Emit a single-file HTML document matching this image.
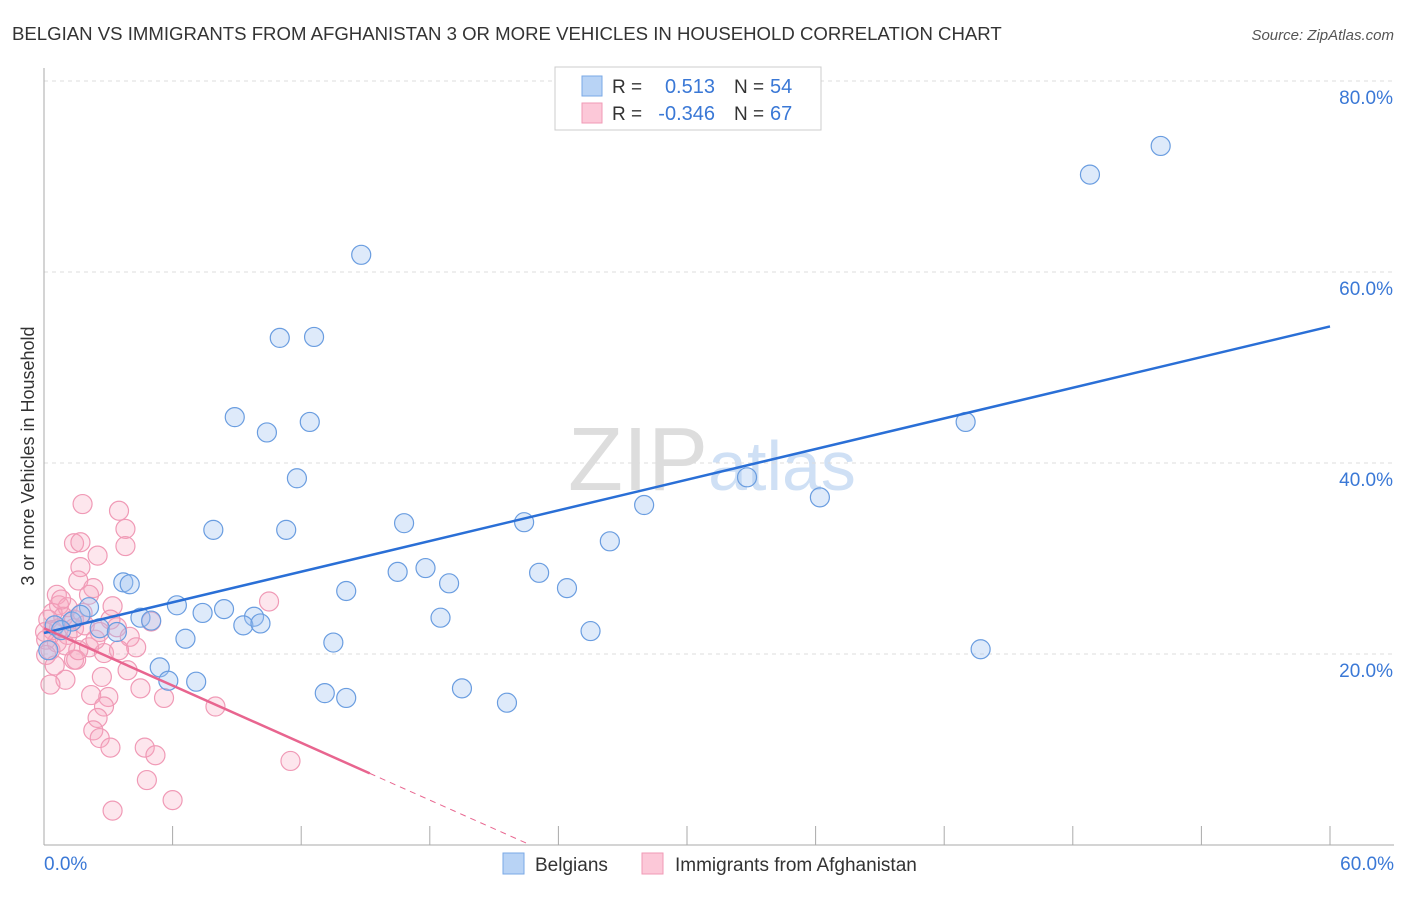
<!DOCTYPE html>
<html><head><meta charset="utf-8"><style>
body{margin:0;background:#fff;font-family:"Liberation Sans",sans-serif}
svg text{font-family:"Liberation Sans",sans-serif}
</style></head><body>
<svg id="c" width="1406" height="892" xmlns="http://www.w3.org/2000/svg">
<text x="12" y="40" font-size="18.6" fill="#333">BELGIAN VS IMMIGRANTS FROM AFGHANISTAN 3 OR MORE VEHICLES IN HOUSEHOLD CORRELATION CHART</text>
<text x="1394" y="40" font-size="15" fill="#555" font-style="italic" text-anchor="end">Source: ZipAtlas.com</text>
<text x="712" y="490" font-size="90" fill="#ddd" text-anchor="middle" font-family="Liberation Serif">ZIP<tspan fill="#cfe0f5" font-family="Liberation Sans" font-size="70">atlas</tspan></text>
<g id="grid"></g><g id="pts"></g><g id="lines"></g>
<text transform="translate(34,456) rotate(-90)" font-size="18" fill="#333" text-anchor="middle">3 or more Vehicles in Household</text>
<g>
<rect x="555" y="67" width="266" height="63" fill="#fff" stroke="#ccc"/>
<rect x="582" y="76" width="20" height="20" fill="#b8d3f5" stroke="#7aa8e6"/>
<rect x="582" y="103" width="20" height="20" fill="#fcc8d8" stroke="#f09ab6"/>
<text x="612" y="93" font-size="19" fill="#333">R = </text><text x="715" y="93" font-size="20" fill="#3a78d6" text-anchor="end">0.513</text>
<text x="734" y="93" font-size="19" fill="#333">N = </text><text x="770" y="93" font-size="20" fill="#3a78d6">54</text>
<text x="612" y="120" font-size="19" fill="#333">R = </text><text x="715" y="120" font-size="20" fill="#3a78d6" text-anchor="end">-0.346</text>
<text x="734" y="120" font-size="19" fill="#333">N = </text><text x="770" y="120" font-size="20" fill="#3a78d6">67</text>
</g>
<g>
<rect x="503" y="853" width="21" height="21" fill="#b8d3f5" stroke="#7aa8e6"/><text x="535" y="871" font-size="19" fill="#333">Belgians</text>
<rect x="642" y="853" width="21" height="21" fill="#fcc8d8" stroke="#f09ab6"/><text x="675" y="871" font-size="19" fill="#333">Immigrants from Afghanistan</text>
</g>
</svg>
<script>
const blueX=[52.1,48.8,14.8,11.0,12.6,8.9,10.4,12.4,43.0,11.8,32.8,36.2,28.0,16.8,22.4,7.9,11.3,26.4,16.5,17.8,18.9,23.1,24.4,3.7,4.0,14.1,6.2,7.4,8.4,2.1,4.5,5.0,9.8,9.3,10.1,18.5,25.5,2.6,3.4,6.6,13.5,43.7,5.4,5.8,7.1,13.1,14.1,19.5,21.6,0.5,0.2,1.3,0.8,1.7];
const blueY=[73.2,70.2,61.8,53.1,53.2,44.8,43.2,44.3,44.3,38.4,38.5,36.4,35.6,33.7,33.8,33.0,33.0,31.8,28.6,29.0,27.4,28.5,26.9,27.5,27.3,26.6,25.1,24.3,24.7,24.9,23.8,23.5,23.9,23.0,23.2,23.8,22.4,22.7,22.3,21.6,21.2,20.5,18.6,17.2,17.1,15.9,15.4,16.4,14.9,23.0,20.4,23.4,22.5,24.1];
const pinkX=[1.8,3.5,3.8,3.8,1.4,1.7,2.5,1.7,1.6,2.3,3.2,10.5,0.6,0.7,1.1,0.4,0.9,1.4,1.8,3.4,4.0,4.3,2.1,2.8,3.5,1.4,1.5,0.3,0.6,3.9,2.7,1.0,0.3,4.5,5.6,8.0,2.2,3.0,2.8,2.5,2.3,2.6,3.1,4.7,5.2,11.5,4.8,6.0,3.2,5.0,0.2,0.4,0.1,0.7,1.1,1.4,1.9,2.4,3.1,0.1,0.5,0.8,2.1,2.6,1.0,0.05,1.6];
const pinkY=[35.7,35.0,33.1,31.3,31.6,31.7,30.3,29.1,27.7,26.9,25.0,25.5,26.2,25.1,24.9,24.3,23.9,23.6,24.3,22.8,21.8,20.7,20.7,20.1,20.4,19.4,19.4,20.4,21.2,18.3,17.6,17.3,16.8,16.4,15.4,14.5,15.7,15.5,14.5,13.3,12.0,11.2,10.2,10.2,9.4,8.8,6.8,4.7,3.6,23.4,23.6,22.5,21.5,22.7,22.0,22.7,23.0,21.5,23.6,19.9,18.8,25.7,26.2,22.3,20.9,22.3,20.4];
const yTicks=[20,40,60,80];
const xTickVals=[0,6,12,18,24,30,36,42,48,54,60];
const blueTrend=[[0,22.2],[60,54.3]];
const pinkTrend=[[0,22.7],[15.2,7.5]];
const pinkDash=[[15.2,7.5],[22.7,0]];
const NS='http://www.w3.org/2000/svg';
const sx=v=>44+v/60*1286, sy=v=>845-v/20*191;
function mk(tag,at,parent){const e=document.createElementNS(NS,tag);for(const k in at)e.setAttribute(k,at[k]);parent.appendChild(e);return e;}
const grid=document.getElementById('grid');
yTicks.forEach(t=>{const l=mk('line',{x1:44,x2:1394,y1:sy(t),y2:sy(t),stroke:'#ddd','stroke-dasharray':'4,4'},grid);


const tx=mk('text',{x:1393,y:sy(t)+23,'font-size':19,fill:'#3a78d6','text-anchor':'end'},grid);tx.textContent=t.toFixed(1)+'%';

});
mk('line',{x1:44,x2:44,y1:68,y2:845,stroke:'#aaa'},grid);
mk('line',{x1:44,x2:1394,y1:845,y2:845,stroke:'#aaa'},grid);
xTickVals.forEach(t=>{const l=mk('line',{x1:sx(t),x2:sx(t),y1:826,y2:845,stroke:'#aaa'},grid);

});
[[0,'start',44],[60,'end',1394]].forEach(([v,a,x])=>{const tx=mk('text',{x:x,y:870,'font-size':19,fill:'#3a78d6','text-anchor':a},grid);tx.textContent=v.toFixed(1)+'%';

});
const pts=document.getElementById('pts');
pinkX.forEach((x,i)=>{const c=mk('circle',{cx:sx(x),cy:sy(pinkY[i]),r:9.5,fill:'rgba(248,165,192,0.28)',stroke:'#f09ab6','stroke-width':1.2},pts);

});
blueX.forEach((x,i)=>{const c=mk('circle',{cx:sx(x),cy:sy(blueY[i]),r:9.5,fill:'rgba(160,196,240,0.35)',stroke:'#6a9de0','stroke-width':1.2},pts);

});
const lines=document.getElementById('lines');
function ln(p,st,dash,name){const l=mk('line',{x1:sx(p[0][0]),y1:sy(p[0][1]),x2:sx(p[1][0]),y2:sy(p[1][1]),stroke:st,'stroke-width':dash?1:2.5},lines);if(dash)l.setAttribute('stroke-dasharray','6,5');

}
ln(blueTrend,'#2a6fd6',false,'belgian-trendline');
ln(pinkTrend,'#e8658f',false,'afghanistan-trendline');
ln(pinkDash,'#e8658f',true,'afghanistan-trendline-extension');
</script>
</body></html>
